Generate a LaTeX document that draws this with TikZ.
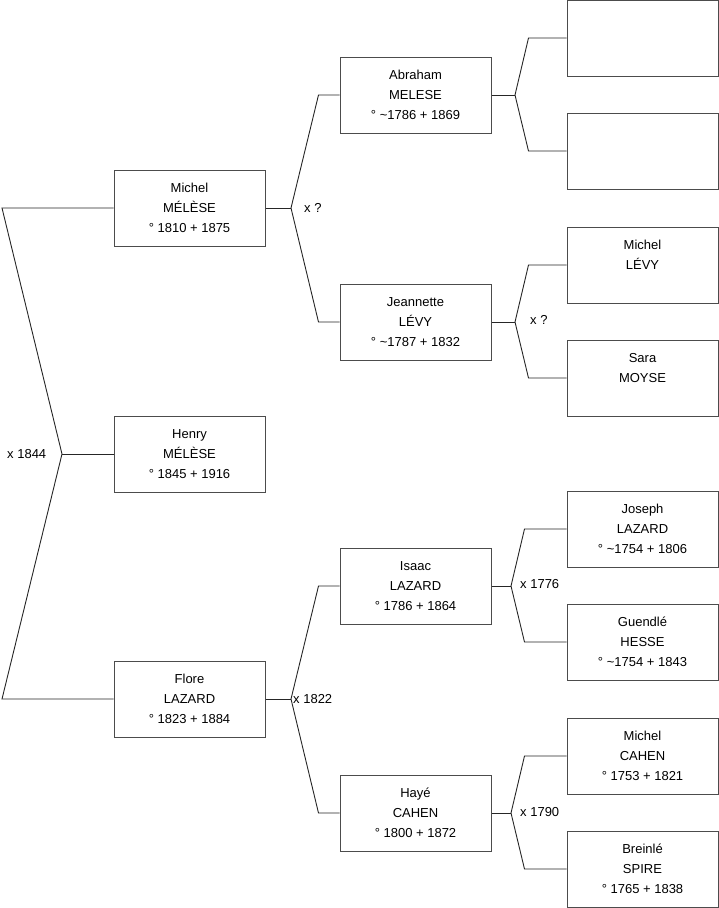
\documentclass[tikz,border=0pt]{standalone}
\usepackage{fontspec}
\setmainfont{Liberation Sans}
\begin{document}
\begin{tikzpicture}[x=1pt,y=-1pt,
  person/.style={draw=black!70, line width=1pt, minimum width=151pt, minimum height=76pt,
    align=center, font=\fontsize{13}{20}\selectfont, inner sep=0pt},
  link/.style={line width=0.9pt, black!85},
  lbl/.style={font=\fontsize{13}{16}\selectfont, anchor=west, inner sep=0pt}]
\useasboundingbox (0,0) rectangle (719,908);
% generation 1
\node[person] (mm) at (189.5,208) {\strut Michel\\\strut MÉLÈSE\\\strut ° 1810 + 1875};
\node[person] (hm) at (189.5,454) {\strut Henry\\\strut MÉLÈSE\\\strut ° 1845 + 1916};
\node[person] (fl) at (189.5,699) {\strut Flore\\\strut LAZARD\\\strut ° 1823 + 1884};
% generation 2
\node[person] (am) at (415.5,95) {\strut Abraham\\\strut MELESE\\\strut ° \textasciitilde 1786 + 1869};
\node[person] (jl) at (415.5,322) {\strut Jeannette\\\strut LÉVY\\\strut ° \textasciitilde 1787 + 1832};
\node[person] (il) at (415.5,586) {\strut Isaac\\\strut LAZARD\\\strut ° 1786 + 1864};
\node[person] (hc) at (415.5,813) {\strut Hayé\\\strut CAHEN\\\strut ° 1800 + 1872};
% generation 3
\node[person] (e1) at (642.5,38) {};
\node[person] (e2) at (642.5,151) {};
\node[person] (ml) at (642.5,265) {\strut Michel\\\strut LÉVY\\\strut};
\node[person] (sm) at (642.5,378) {\strut Sara\\\strut MOYSE\\\strut};
\node[person] (jz) at (642.5,529) {\strut Joseph\\\strut LAZARD\\\strut ° \textasciitilde 1754 + 1806};
\node[person] (gh) at (642.5,642) {\strut Guendlé\\\strut HESSE\\\strut ° \textasciitilde 1754 + 1843};
\node[person] (mc) at (642.5,756) {\strut Michel\\\strut CAHEN\\\strut ° 1753 + 1821};
\node[person] (bs) at (642.5,869) {\strut Breinlé\\\strut SPIRE\\\strut ° 1765 + 1838};
% fork vertices
\coordinate (v0) at (62,454);
\coordinate (t0) at (2,208);
\coordinate (b0) at (2,699);
\coordinate (v1) at (291,208);
\coordinate (v2) at (515,95);
\coordinate (v3) at (515,322);
\coordinate (v4) at (291,699);
\coordinate (v5) at (511,586);
\coordinate (v6) at (511,813);
% connectors
\draw[link] (mm.west) -- (t0) -- (v0) -- (b0) -- (fl.west);
\draw[link] (v0) -- (hm.west);
\draw[link] (mm.east) -- (v1);
\draw[link] (am.west) -- ++(-21,0) -- (v1);
\draw[link] (jl.west) -- ++(-21,0) -- (v1);
\draw[link] (fl.east) -- (v4);
\draw[link] (il.west) -- ++(-21,0) -- (v4);
\draw[link] (hc.west) -- ++(-21,0) -- (v4);
\draw[link] (am.east) -- (v2);
\draw[link] (e1.west) -- ++(-38,0) -- (v2);
\draw[link] (e2.west) -- ++(-38,0) -- (v2);
\draw[link] (jl.east) -- (v3);
\draw[link] (ml.west) -- ++(-38,0) -- (v3);
\draw[link] (sm.west) -- ++(-38,0) -- (v3);
\draw[link] (il.east) -- (v5);
\draw[link] (jz.west) -- ++(-42,0) -- (v5);
\draw[link] (gh.west) -- ++(-42,0) -- (v5);
\draw[link] (hc.east) -- (v6);
\draw[link] (mc.west) -- ++(-42,0) -- (v6);
\draw[link] (bs.west) -- ++(-42,0) -- (v6);
% marriage labels
\node[lbl] (l0) at (7,454) {x 1844};
\node[lbl] (l1) at (304,208) {x ?};
\node[lbl] (l3) at (530,320) {x ?};
\node[lbl] (l4) at (293,699) {x 1822};
\node[lbl] (l5) at (520,584) {x 1776};
\node[lbl] (l6) at (520,812) {x 1790};
\end{tikzpicture}
\end{document}
